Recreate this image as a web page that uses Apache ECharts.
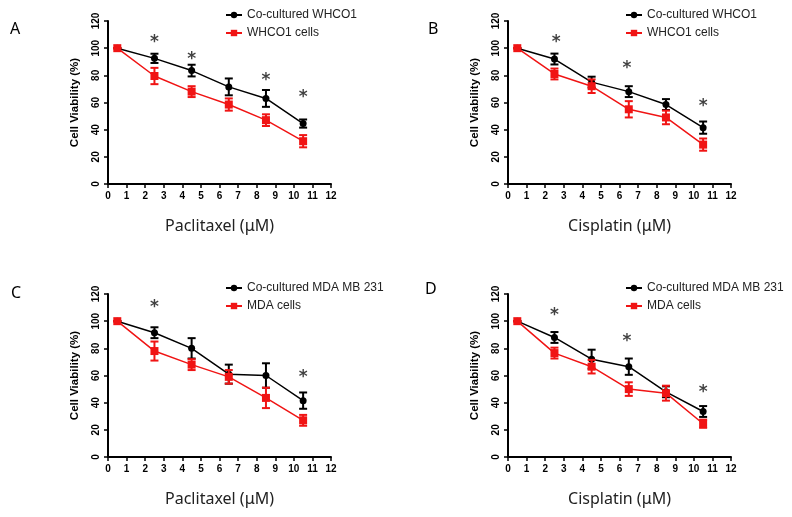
<!DOCTYPE html>
<html>
<head>
<meta charset="utf-8">
<script src="https://cdn.jsdelivr.net/npm/echarts@6/dist/echarts.min.js"></script>
<style>
  html, body { margin: 0; padding: 0; background: #fff; }
  #chart { width: 792px; height: 517px; }
</style>
</head>
<body>
<div id="chart"></div>
<script>
// doses (µM) shared by every panel
const doses = [0.5, 2.5, 4.5, 6.5, 8.5, 10.5];
const xTicks = [0, 1, 2, 3, 4, 5, 6, 7, 8, 9, 10, 11, 12];
const yTicks = [0, 20, 40, 60, 80, 100, 120];

// A - paclitaxel, WHCO1
const coA = [100, 92.5, 83.5, 71.5, 63, 44.5];
const coAErr = [0, 3.4, 4.3, 6.2, 6.2, 3];
const cellA = [100, 79.5, 68, 58.5, 47, 31.5];
const cellAErr = [0, 6, 4, 4.5, 4.3, 4.5];
const starA = [[2.5, 106], [4.5, 94], [8.5, 78], [10.5, 66]];

// B - cisplatin, WHCO1
const coB = [100, 92, 75, 68, 58.5, 41.5];
const coBErr = [0, 4, 4, 4, 4, 4.5];
const cellB = [100, 81, 72, 55, 49, 29];
const cellBErr = [0, 4, 5, 6, 5, 4.5];
const starB = [[2.6, 106], [6.4, 87], [10.5, 59]];

// C - paclitaxel, MDA MB 231
const coC = [100, 91.5, 80, 61, 60, 41.5];
const coCErr = [0, 4, 7.5, 7, 9, 6];
const cellC = [100, 78, 68, 59, 43.5, 27];
const cellCErr = [0, 7, 4, 5, 7.5, 4];
const starC = [[2.5, 112.5], [10.5, 61]];

// D - cisplatin, MDA MB 231
const coD = [100, 88, 72, 66.5, 48, 33.5];
const coDErr = [0, 4, 7, 6, 4, 4];
const cellD = [100, 76.5, 66.5, 50, 47, 24.5];
const cellDErr = [0, 4, 5, 5, 5.5, 3];
const starD = [[2.5, 106], [6.4, 87], [10.5, 50]];

const panels = [
  { letter: 'A', lx: 10, ly: 21, left: 108, top: 21, drug: 'Paclitaxel (μM)', names: ['Co-cultured WHCO1', 'WHCO1 cells'], co: coA, coErr: coAErr, cell: cellA, cellErr: cellAErr, stars: starA },
  { letter: 'B', lx: 428, ly: 21, left: 508, top: 21, drug: 'Cisplatin (μM)', names: ['Co-cultured WHCO1', 'WHCO1 cells'], co: coB, coErr: coBErr, cell: cellB, cellErr: cellBErr, stars: starB },
  { letter: 'C', lx: 11, ly: 285, left: 108, top: 294, drug: 'Paclitaxel (μM)', names: ['Co-cultured MDA MB 231', 'MDA cells'], co: coC, coErr: coCErr, cell: cellC, cellErr: cellCErr, stars: starC },
  { letter: 'D', lx: 425, ly: 281, left: 508, top: 294, drug: 'Cisplatin (μM)', names: ['Co-cultured MDA MB 231', 'MDA cells'], co: coD, coErr: coDErr, cell: cellD, cellErr: cellDErr, stars: starD }
];

const RED = '#f01414';
const BLACK = '#000';

function errBars(vals, errs) {
  return doses.map((d, i) => [d, vals[i] - errs[i], vals[i] + errs[i]]);
}

function errRender(color) {
  return function (params, api) {
    const x = api.value(0);
    const top = api.coord([x, api.value(2)]);
    const bot = api.coord([x, api.value(1)]);
    const w = 4;
    const style = { stroke: color, lineWidth: 2 };
    return {
      type: 'group',
      children: [
        { type: 'line', shape: { x1: top[0], y1: top[1], x2: bot[0], y2: bot[1] }, style: style },
        { type: 'line', shape: { x1: top[0] - w, y1: top[1], x2: top[0] + w, y2: top[1] }, style: style },
        { type: 'line', shape: { x1: bot[0] - w, y1: bot[1], x2: bot[0] + w, y2: bot[1] }, style: style }
      ]
    };
  };
}

const grid = [], xAxis = [], yAxis = [], series = [], legend = [], graphic = [];

panels.forEach((p, k) => {
  grid.push({ left: p.left, top: p.top, width: 223, height: 163 });
  xAxis.push({
    gridIndex: k, type: 'value', min: xTicks[0], max: xTicks[xTicks.length - 1], interval: 1,
    name: p.drug, nameLocation: 'middle', nameGap: 34,
    nameTextStyle: { fontFamily: 'Noto Sans', fontSize: 16, color: '#222' },
    axisLine: { lineStyle: { color: '#000', width: 2 } },
    axisTick: { show: true, length: 4, lineStyle: { color: '#000', width: 1.5 } },
    axisLabel: { fontFamily: 'Liberation Sans', fontWeight: 'bold', fontSize: 10, color: '#000', margin: 7 },
    splitLine: { show: false }
  });
  yAxis.push({
    gridIndex: k, type: 'value', min: yTicks[0], max: yTicks[yTicks.length - 1], interval: 20,
    name: 'Cell Viability (%)', nameLocation: 'middle', nameGap: 27,
    nameTextStyle: { fontFamily: 'Liberation Sans', fontWeight: 'bold', fontSize: 11.5, color: '#000' },
    axisLine: { show: true, lineStyle: { color: '#000', width: 2 } },
    axisTick: { show: true, length: 4, lineStyle: { color: '#000', width: 1.5 } },
    axisLabel: { fontFamily: 'Liberation Sans', fontWeight: 'bold', fontSize: 10, color: '#000', rotate: 90, margin: 7 },
    splitLine: { show: false }
  });

  series.push({
    type: 'custom', xAxisIndex: k, yAxisIndex: k, renderItem: errRender(BLACK),
    data: errBars(p.co, p.coErr), z: 2, silent: true
  });
  series.push({
    name: p.names[0], type: 'line', xAxisIndex: k, yAxisIndex: k,
    data: doses.map((d, i) => [d, p.co[i]]),
    symbol: 'circle', symbolSize: 7, color: BLACK,
    lineStyle: { color: BLACK, width: 1.5 }, itemStyle: { color: BLACK }, z: 3
  });
  series.push({
    type: 'custom', xAxisIndex: k, yAxisIndex: k, renderItem: errRender(RED),
    data: errBars(p.cell, p.cellErr), z: 4, silent: true
  });
  series.push({
    name: p.names[1], type: 'line', xAxisIndex: k, yAxisIndex: k,
    data: doses.map((d, i) => [d, p.cell[i]]),
    symbol: 'rect', symbolSize: 8, color: RED,
    lineStyle: { color: RED, width: 1.5 }, itemStyle: { color: RED }, z: 5
  });
  // significance asterisks
  series.push({
    type: 'scatter', xAxisIndex: k, yAxisIndex: k, data: p.stars,
    symbolSize: 2, itemStyle: { color: 'rgba(0,0,0,0)' }, silent: true, z: 6,
    label: { show: true, position: 'inside', formatter: '*', fontFamily: 'DejaVu Sans', fontWeight: 'bold', fontSize: 17, color: '#111', offset: [0, 3] }
  });

  legend.push({
    data: p.names, orient: 'vertical', left: p.left + 117, top: p.top - 12,
    itemWidth: 16, itemHeight: 8, itemGap: 6, padding: 0,
    textStyle: { fontFamily: 'Liberation Sans', fontSize: 12, color: '#222' },
    selectedMode: false
  });

  graphic.push({
    type: 'text', left: p.lx, top: p.ly,
    style: { text: p.letter, font: '16px "Noto Sans"', fill: '#000' }
  });
});

const chart = echarts.init(document.getElementById('chart'));
chart.setOption({
  animation: false,
  backgroundColor: '#fff',
  grid, xAxis, yAxis, series, legend, graphic
});
</script>
</body>
</html>
